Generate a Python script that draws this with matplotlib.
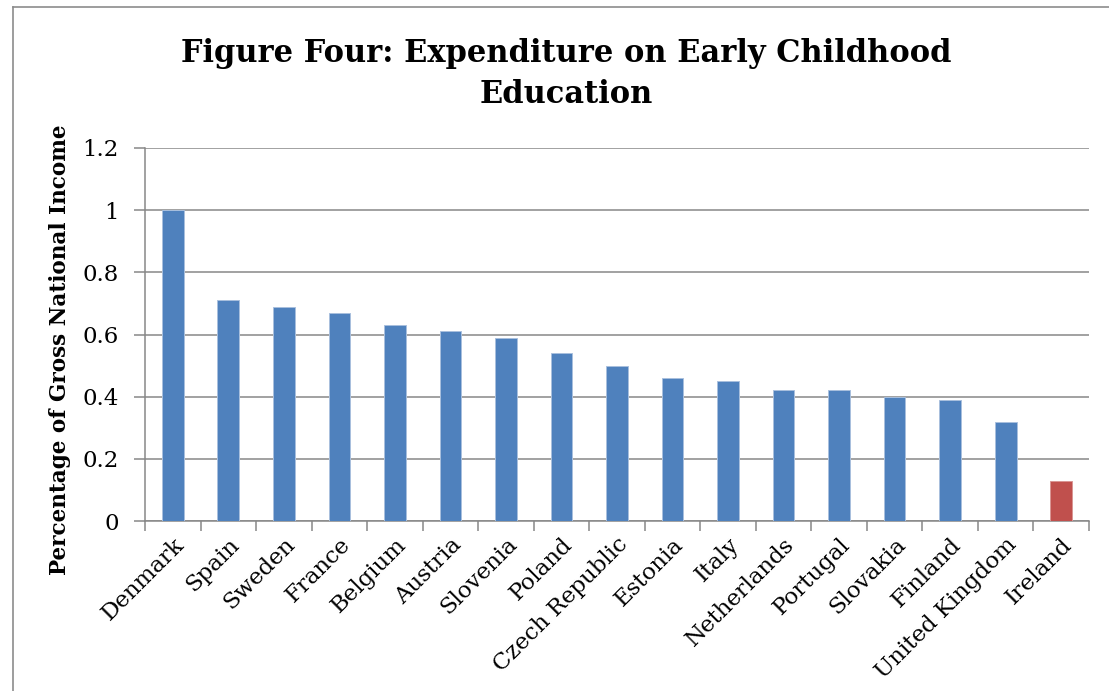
import matplotlib
matplotlib.use("Agg")
import matplotlib.pyplot as plt
from matplotlib.lines import Line2D
import numpy as np

countries = ["Denmark", "Spain", "Sweden", "France", "Belgium", "Austria",
             "Slovenia", "Poland", "Czech Republic", "Estonia", "Italy",
             "Netherlands", "Portugal", "Slovakia", "Finland",
             "United Kingdom", "Ireland"]
values = [1.00, 0.71, 0.69, 0.67, 0.63, 0.61, 0.59, 0.54, 0.50, 0.46,
          0.45, 0.42, 0.42, 0.40, 0.39, 0.32, 0.13]
highlight = "Ireland"
y_ticks = [0, 0.2, 0.4, 0.6, 0.8, 1, 1.2]
y_tick_labels = ["0", "0.2", "0.4", "0.6", "0.8", "1", "1.2"]

blue = "#4F81BD"
red = "#C0504D"
grid_grey = "#878787"
serif = ["DejaVu Serif"]

fig = plt.figure(figsize=(11.09, 6.91), dpi=100)
ax = fig.add_axes([145 / 1109, 1 - 521 / 691, (1089 - 145) / 1109, (521 - 148) / 691])

x = np.arange(len(countries))
colors = [red if c == highlight else blue for c in countries]
edges = ["#D99694" if c == highlight else "#A9C0DE" for c in countries]
ax.bar(x, values, width=0.39, color=colors, edgecolor=edges, linewidth=0.7, zorder=3)

ax.set_xlim(-0.5, len(countries) - 0.5)
ax.set_ylim(0, 1.2)
ax.set_yticks(y_ticks)
ax.set_yticklabels(y_tick_labels, fontfamily=serif, fontsize=16.5)
ax.yaxis.grid(True, color=grid_grey, linewidth=1.1, zorder=0)
ax.set_axisbelow(True)

ax.set_xticks(x)
ax.set_xticklabels(countries, rotation=45, ha="right", rotation_mode="anchor",
                   fontfamily=serif, fontsize=16.5)
ax.set_xticks(np.arange(-0.5, len(countries)), minor=True)
ax.tick_params(axis="x", which="major", length=0, pad=9)
ax.tick_params(axis="x", which="minor", length=7, width=1.1, color=grid_grey)
ax.tick_params(axis="y", length=8, width=1.1, color=grid_grey, pad=11)

for side in ("top", "right"):
    ax.spines[side].set_visible(False)
for side in ("left", "bottom"):
    ax.spines[side].set_color(grid_grey)
    ax.spines[side].set_linewidth(1.1)

ax.set_ylabel("Percentage of Gross National Income", fontfamily=serif,
              fontsize=15.5, fontweight="bold")
ax.yaxis.set_label_coords(-0.078, 0.458)

fig.text(566 / 1109, 1 - 74 / 691,
         "Figure Four: Expenditure on Early Childhood\nEducation",
         ha="center", va="center", fontfamily=serif, fontsize=22,
         fontweight="bold", linespacing=1.4)

# chart frame
frame_kw = dict(color="#8C8C8C", linewidth=1.2, transform=fig.transFigure)
fig.add_artist(Line2D([13 / 1109, 13 / 1109], [0, 1 - 7 / 691], **frame_kw))
fig.add_artist(Line2D([13 / 1109, 1], [1 - 7 / 691, 1 - 7 / 691], **frame_kw))

fig.savefig("out.png", dpi=100)
